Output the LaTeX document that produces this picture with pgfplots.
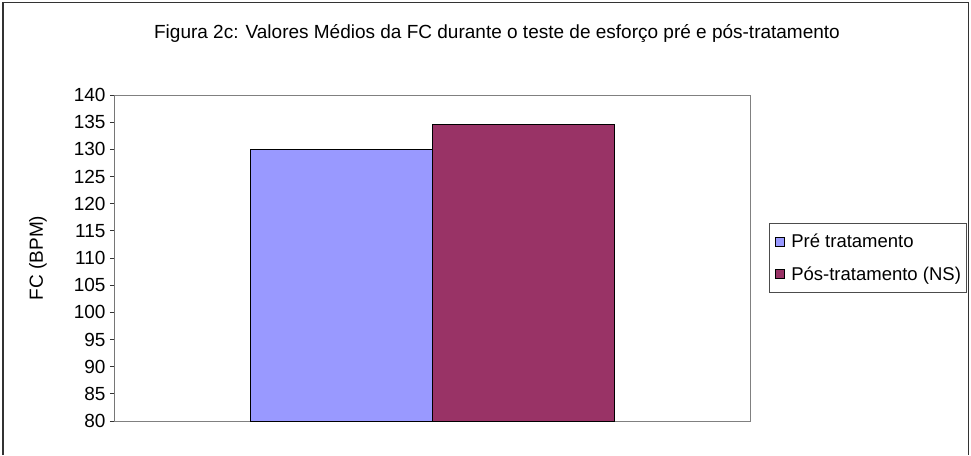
\documentclass[border=0pt]{standalone}
\usepackage{fontspec}
\setmainfont{Liberation Sans}
\usepackage{pgfplots}
\pgfplotsset{compat=1.18}
\definecolor{pre}{HTML}{9999FF}
\definecolor{pos}{HTML}{993366}
\definecolor{frm}{HTML}{808080}
\begin{document}
\begin{tikzpicture}[x=1pt,y=1pt]
\path[use as bounding box] (0,0) rectangle (971,455);
\draw[line width=1.5pt, black!80] (3,0) -- (3,452.5) -- (968.5,452.5) -- (968.5,0);
\node[font=\fontsize{19}{22}\selectfont, anchor=center] at (497,421) {Figura 2c: Valores Médios da FC durante o teste de esforço pré e pós-tratamento};
\begin{axis}[
  at={(115pt,34pt)}, anchor=south west,
  scale only axis, width=635pt, height=326pt,
  ybar=0pt, bar width=182pt,
  xmin=-1, xmax=1,
  ymin=80, ymax=140,
  ytick={80,85,...,140},
  ytick pos=left,
  xtick=\empty,
  axis line style={frm, line width=1pt},
  tick align=outside, major tick length=5pt,
  ytick style={black!80, line width=0.8pt},
  yticklabel style={font=\fontsize{19}{22}\selectfont, xshift=-1pt},
  /pgf/number format/assume math mode=true,
  ylabel={FC (BPM)},
  every axis y label/.style={at={(rel axis cs:0,0.5)}, xshift=-77pt, rotate=90, anchor=center, font=\fontsize{19}{22}\selectfont},
  legend style={at={(1,0.5)}, anchor=west, xshift=19pt, draw=black!70, line width=0.6pt,
    font=\fontsize{18.5}{21}\selectfont, row sep=13.5pt, inner xsep=3pt, inner ysep=8.5pt},
  legend cell align=left,
  legend image code/.code={\draw[#1, line width=0.8pt] (3pt,-4.5pt) rectangle (12pt,4.5pt); \path[draw=none,fill=none] (0pt,0pt) -- (17pt,0pt);},
]
\addplot[fill=pre, draw=black, line width=1pt] coordinates {(0,130)};
\addplot[fill=pos, draw=black, line width=1pt] coordinates {(0,134.5)};
\draw[black!80, line width=1pt] (rel axis cs:0,0) -- (rel axis cs:0,1);
\legend{Pré tratamento, Pós-tratamento (NS)}
\end{axis}
\end{tikzpicture}
\end{document}
